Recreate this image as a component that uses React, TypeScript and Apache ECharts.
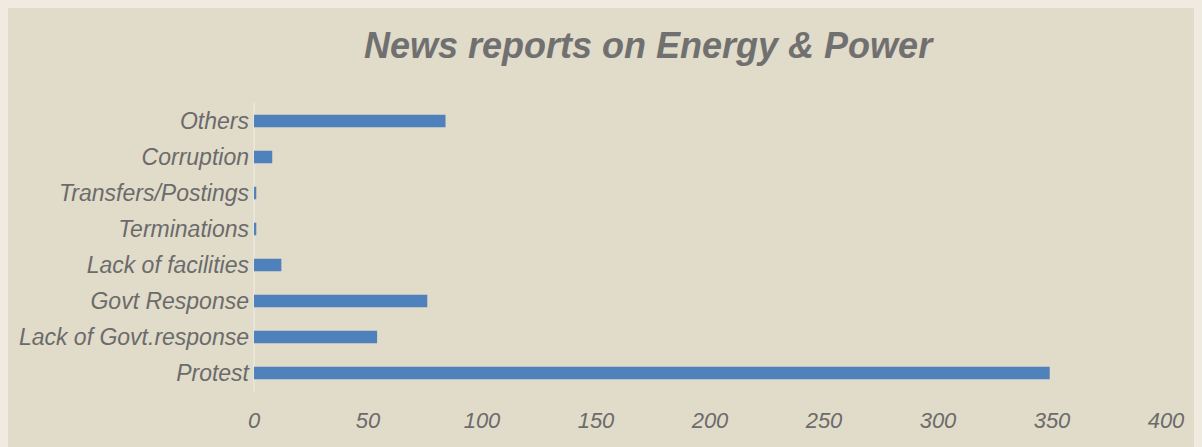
import React, { useEffect, useRef } from "react";
import * as echarts from "echarts";

const categories = [
  "Protest",
  "Lack of Govt.response",
  "Govt Response",
  "Lack of facilities",
  "Terminations",
  "Transfers/Postings",
  "Corruption",
  "Others",
];
const values = [349, 54, 76, 12, 1, 1, 8, 84];
const xTicks = { min: 0, max: 400, interval: 50 };
const titleText = "News reports on Energy & Power";

export default function App() {
  const ref = useRef<HTMLDivElement>(null);
  useEffect(() => {
    document.body.style.background = "#efebe1";
    const chart = echarts.init(ref.current!, null, { renderer: "svg" });
    const font = "'Liberation Sans', Arial, sans-serif";
    chart.setOption({
      animation: false,
      backgroundColor: "#e1dbc9",
      title: {
        text: titleText,
        left: 356,
        top: 19,
        padding: 0,
        textStyle: {
          fontFamily: font,
          fontSize: 36,
          fontWeight: "bold",
          fontStyle: "italic",
          color: "#707070",
        },
      },
      grid: { left: 246, right: 36, top: 95, bottom: 56, containLabel: false },
      xAxis: {
        type: "value",
        min: xTicks.min,
        max: xTicks.max,
        interval: xTicks.interval,
        axisLine: { show: false },
        axisTick: { show: false },
        splitLine: { show: false },
        axisLabel: {
          margin: 18,
          fontFamily: font,
          fontSize: 22,
          fontStyle: "italic",
          color: "#6b6b6b",
        },
      },
      yAxis: {
        type: "category",
        data: categories,
        axisLine: { show: true, lineStyle: { color: "#ebe7dd", width: 1.5 } },
        axisTick: { show: false },
        axisLabel: {
          margin: 5,
          fontFamily: font,
          fontSize: 23,
          fontStyle: "italic",
          color: "#6b6b6b",
        },
      },
      series: [
        {
          type: "bar",
          data: values,
          barWidth: 12.5,
          itemStyle: { color: "#4f81bd" },
        },
      ],
    });
    return () => chart.dispose();
  }, []);
  return <div ref={ref} style={{ width: 1194, height: 439 }} />;
}
